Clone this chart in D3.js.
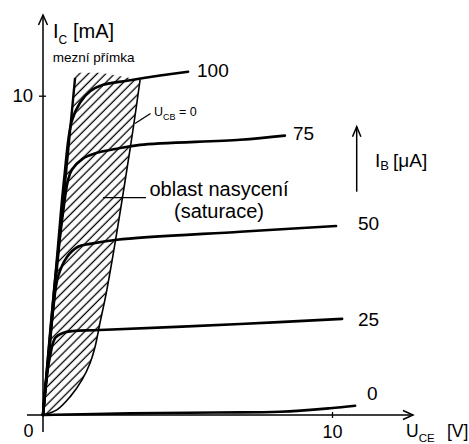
<!DOCTYPE html>
<html><head><meta charset="utf-8">
<script src="https://cdn.jsdelivr.net/npm/d3@7"></script>
<style>
html,body{margin:0;padding:0;background:#fff;}
text{font-family:"Liberation Sans",Arial,sans-serif;fill:#000;}
</style></head>
<body><svg id="c" width="469" height="444"></svg>
<script>
// ---- data (U_CE in V, I_C in mA) ----
const ibLevels = ["0", "25", "50", "75", "100"];
const curveIb0   = [[0,0],[3,0.05],[6,0.08],[8.2,0.1],[9.93,0.21],[10.8,0.29]];
const curveIb25  = [[0,0],[0.07,0.78],[0.24,1.82],[0.42,2.41],[0.69,2.57],[1.04,2.63],[1.97,2.66],[6.82,2.85],[10.35,3.01]];
const curveIb50  = [[0,0],[0.22,2.04],[0.35,3.29],[0.52,4.33],[0.83,4.95],[1.21,5.27],[1.63,5.36],[2.56,5.49],[6.82,5.74],[10.14,5.92]];
const curveIb75  = [[0,0],[0.42,4.23],[0.66,6.11],[0.87,7.37],[1.0,7.68],[1.38,8.03],[1.87,8.21],[2.56,8.34],[3.36,8.46],[6.82,8.62],[8.37,8.75]];
const curveIb100 = [[0,0],[0.48,4.86],[0.73,7.37],[0.99,9.19],[1.28,9.78],[1.63,10.14],[2.08,10.34],[2.91,10.47],[4.05,10.63],[5.02,10.75]];
const curves = [curveIb0, curveIb25, curveIb50, curveIb75, curveIb100];
const limitLine = [[0,0],[1.11,10.56]];                 // mezní přímka
const ucbZero = [[0,0],[0.48,0.16],[0.93,0.56],[1.35,1.10],[1.63,1.63],[1.80,2.13],[1.97,2.88],[2.21,3.92],[3.01,8.31],[3.36,10.50]]; // U_CB = 0
const hatchTop = [[3.36,10.50],[2.0,10.72],[1.11,10.72]];
const xTicks = [10];
const yTicks = [10];
const xTickLabels = ["10"];
const yTickLabels = ["10"];
// label anchors (data units)
const ibLabelAt = [[11.21,0.47],[10.9,2.79],[10.9,5.80],[8.65,8.62],[5.33,10.59]];

const svg = d3.select("#c");
const x = d3.scaleLinear().domain([0,10]).range([43,332]);
const y = d3.scaleLinear().domain([0,10]).range([415,95.7]);
const line = d3.line().x(d=>x(d[0])).y(d=>y(d[1]));
const smooth = d3.line().x(d=>x(d[0])).y(d=>y(d[1])).curve(d3.curveCatmullRom.alpha(0.5));

// hatch pattern
const defs = svg.append("defs");
const pat = defs.append("pattern").attr("id","hatch").attr("patternUnits","userSpaceOnUse")
  .attr("width",6.2).attr("height",6.2).attr("patternTransform","rotate(-45)");
pat.append("line").attr("x1",0).attr("y1",3).attr("x2",6.2).attr("y2",3)
  .attr("stroke","#000").attr("stroke-width",1.3);
const region = ucbZero.slice().concat(hatchTop.slice(1)).concat([[0,0]]);
svg.append("path").attr("d", line(region)).attr("fill","url(#hatch)").attr("stroke","none");

// U_CB = 0 boundary
svg.append("path").attr("d", smooth(ucbZero)).attr("fill","none").attr("stroke","#000").attr("stroke-width",1.6);
// limit line
svg.append("path").attr("d", line(limitLine)).attr("fill","none").attr("stroke","#000").attr("stroke-width",2.4);

// axes
const ax = svg.append("g").attr("stroke","#000").attr("fill","none").attr("stroke-width",1.5);
ax.append("line").attr("x1",x(0)).attr("y1",432).attr("x2",x(0)).attr("y2",15);
ax.append("path").attr("d",`M${x(0)-4.5},25L${x(0)},15L${x(0)+4.5},25`);
ax.append("line").attr("x1",27).attr("y1",y(0)).attr("x2",413).attr("y2",y(0));
ax.append("path").attr("d",`M403,${y(0)-4.5}L413,${y(0)}L403,${y(0)+4.5}`);

const gx = svg.append("g").attr("transform",`translate(0,${y(0)})`)
  .call(d3.axisBottom(x).tickValues(xTicks).tickFormat((d,i)=>xTickLabels[i]).tickSize(3).tickPadding(7));
gx.select(".domain").remove();
gx.selectAll(".tick line").attr("y1",-3).attr("y2",3).attr("stroke-width",1.3);
gx.selectAll(".tick text").attr("font-size",18).attr("font-family",'"Liberation Sans",Arial,sans-serif');
const gy = svg.append("g").attr("transform",`translate(${x(0)},0)`)
  .call(d3.axisLeft(y).tickValues(yTicks).tickFormat((d,i)=>yTickLabels[i]).tickSize(4).tickPadding(6));
gy.select(".domain").remove();
gy.selectAll(".tick line").attr("x1",-4).attr("x2",3).attr("stroke-width",1.3);
gy.selectAll(".tick text").attr("font-size",18.5).attr("font-family",'"Liberation Sans",Arial,sans-serif');
svg.append("text").attr("x",x(0)-14.5).attr("y",437).attr("text-anchor","middle").attr("font-size",18).text("0");

// characteristic curves
curves.forEach((c,i)=>{
  svg.append("path").attr("d", smooth(c)).attr("fill","none").attr("stroke","#000")
    .attr("stroke-width",2.6).attr("stroke-linecap","round");
  svg.append("text").attr("x",x(ibLabelAt[i][0])).attr("y",y(ibLabelAt[i][1]))
    .attr("font-size",19).text(ibLevels[i]);
});

// axis titles
const tIc = svg.append("text").attr("x",53).attr("y",38).attr("font-size",20);
tIc.append("tspan").text("I");
tIc.append("tspan").attr("font-size",12).attr("dy",6).text("C");
tIc.append("tspan").attr("x",73).attr("dy",-6).text("[mA]");

svg.append("text").attr("x",52.7).attr("y",61.7).attr("font-size",13.5).text("mezní přímka");

const tUce = svg.append("text").attr("x",406).attr("y",437).attr("font-size",17.5);
tUce.append("tspan").text("U");
tUce.append("tspan").attr("font-size",11.5).attr("dy",4.5).text("CE");
tUce.append("tspan").attr("x",447).attr("dy",-4.5).text("[V]");

// I_B arrow and label
const ib = svg.append("g").attr("stroke","#000").attr("fill","none").attr("stroke-width",1.5);
ib.append("line").attr("x1",356.7).attr("y1",191.7).attr("x2",356.7).attr("y2",126.7);
ib.append("path").attr("d","M352.5,136.7L356.7,126.7L360.9,136.7");
const tIb = svg.append("text").attr("x",375).attr("y",166.7).attr("font-size",19);
tIb.append("tspan").text("I");
tIb.append("tspan").attr("font-size",13).attr("dy",3).text("B");
tIb.append("tspan").attr("x",393).attr("dy",-3).text("[μA]");

// U_CB = 0 annotation
svg.append("line").attr("x1",150.5).attr("y1",113.5).attr("x2",135).attr("y2",123.5)
  .attr("stroke","#000").attr("stroke-width",1.3);
const tUcb = svg.append("text").attr("x",154).attr("y",115.7).attr("font-size",12.5);
tUcb.append("tspan").text("U");
tUcb.append("tspan").attr("font-size",9).attr("dy",4).text("CB");
tUcb.append("tspan").attr("dy",-4).text(" = 0");

// saturation annotation
svg.append("line").attr("x1",103).attr("y1",197.7).attr("x2",146).attr("y2",197.7)
  .attr("stroke","#000").attr("stroke-width",1.3);
svg.append("text").attr("x",219).attr("y",195.7).attr("text-anchor","middle").attr("font-size",20).text("oblast nasycení");
svg.append("text").attr("x",219).attr("y",218.3).attr("text-anchor","middle").attr("font-size",20).text("(saturace)");
</script></body></html>
